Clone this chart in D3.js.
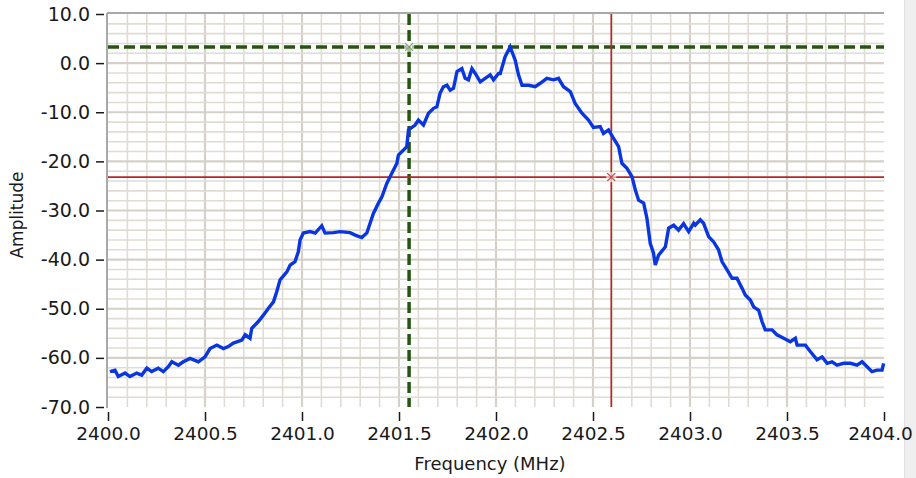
<!DOCTYPE html>
<html>
<head>
<meta charset="utf-8">
<script src="https://cdn.jsdelivr.net/npm/d3@7"></script>
<style>
  html, body { margin: 0; padding: 0; background: #ffffff; }
  svg { display: block; }
  text { font-family: "DejaVu Sans", Verdana, sans-serif; fill: #1a1a1a; }
</style>
</head>
<body>
<svg id="chart" width="916" height="478"></svg>
<script>
// ---- Data ----
const freq = [
  2400.010, 2400.036, 2400.053, 2400.088, 2400.113, 2400.148, 2400.174, 2400.200, 2400.225, 2400.259,
  2400.285, 2400.311, 2400.329, 2400.363, 2400.388, 2400.423, 2400.466, 2400.500, 2400.526, 2400.561,
  2400.595, 2400.620, 2400.646, 2400.690, 2400.707, 2400.732, 2400.741, 2400.775, 2400.801, 2400.827,
  2400.853, 2400.870, 2400.887, 2400.922, 2400.939, 2400.964, 2400.981, 2400.990, 2401.007, 2401.042,
  2401.068, 2401.102, 2401.119, 2401.162, 2401.196, 2401.248, 2401.274, 2401.308, 2401.334, 2401.351,
  2401.368, 2401.394, 2401.412, 2401.437, 2401.463, 2401.489, 2401.497, 2401.523, 2401.540, 2401.549,
  2401.583, 2401.600, 2401.626, 2401.652, 2401.678, 2401.695, 2401.712, 2401.729, 2401.747, 2401.764,
  2401.781, 2401.799, 2401.824, 2401.841, 2401.858, 2401.876, 2401.893, 2401.919, 2401.944, 2401.970,
  2401.987, 2402.013, 2402.022, 2402.047, 2402.073, 2402.099, 2402.116, 2402.134, 2402.168, 2402.202,
  2402.228, 2402.262, 2402.297, 2402.322, 2402.348, 2402.383, 2402.408, 2402.443, 2402.477, 2402.502,
  2402.537, 2402.554, 2402.580, 2402.606, 2402.632, 2402.649, 2402.675, 2402.701, 2402.718, 2402.735,
  2402.761, 2402.778, 2402.795, 2402.812, 2402.821, 2402.838, 2402.873, 2402.890, 2402.916, 2402.941,
  2402.967, 2402.993, 2403.019, 2403.027, 2403.053, 2403.070, 2403.096, 2403.122, 2403.147, 2403.165,
  2403.191, 2403.217, 2403.242, 2403.268, 2403.285, 2403.311, 2403.328, 2403.354, 2403.371, 2403.388,
  2403.423, 2403.448, 2403.483, 2403.517, 2403.543, 2403.552, 2403.595, 2403.620, 2403.655, 2403.681,
  2403.707, 2403.732, 2403.758, 2403.792, 2403.827, 2403.861, 2403.887, 2403.913, 2403.938, 2403.964,
  2403.990, 2403.998
];
const amplitude = [
  -62.8, -62.5, -63.8, -63.1, -63.8, -63.1, -63.5, -62.1, -62.8, -62.1,
  -62.8, -61.8, -60.8, -61.5, -60.8, -60.1, -60.8, -59.8, -58.1, -57.4,
  -58.1, -57.7, -57.0, -56.4, -55.3, -56.0, -54.0, -52.6, -51.3, -49.9,
  -48.6, -46.5, -44.1, -42.5, -41.1, -40.4, -38.4, -36.0, -34.6, -34.3,
  -34.6, -33.1, -34.6, -34.5, -34.3, -34.5, -35.0, -35.5, -34.6, -32.6,
  -30.6, -28.5, -27.2, -24.5, -22.4, -20.4, -18.7, -17.7, -17.0, -13.6,
  -12.6, -11.6, -12.6, -10.2, -9.2, -8.9, -6.1, -4.8, -4.5, -5.5,
  -5.1, -1.7, -1.1, -3.1, -3.4, -1.1, -2.1, -3.8, -3.1, -2.4,
  -3.4, -2.1, -2.1, 1.3, 3.3, 0.6, -2.4, -4.5, -4.5, -4.8,
  -4.1, -3.1, -3.4, -3.1, -4.8, -5.8, -8.2, -10.2, -11.6, -13.1,
  -12.9, -14.3, -13.6, -15.3, -17.0, -20.4, -21.4, -23.1, -25.8, -27.9,
  -28.5, -31.6, -36.7, -38.7, -41.1, -39.1, -37.4, -33.6, -33.0, -34.0,
  -32.7, -34.3, -32.6, -33.0, -31.9, -32.6, -35.3, -36.4, -38.0, -40.4,
  -42.1, -43.8, -43.8, -45.8, -47.2, -48.2, -49.6, -50.3, -52.6, -54.3,
  -54.3, -55.3, -56.0, -56.7, -56.0, -57.4, -57.4, -58.7, -60.4, -59.8,
  -61.1, -60.8, -61.5, -61.1, -61.1, -61.5, -60.8, -61.8, -62.8, -62.5,
  -62.5, -61.1
];
const xTickValues = [2400.0, 2400.5, 2401.0, 2401.5, 2402.0, 2402.5, 2403.0, 2403.5, 2404.0];
const yTickValues = [10, 0, -10, -20, -30, -40, -50, -60, -70];
const cursorFreq = [2401.552, 2402.594];   // green, red
const cursorAmp  = [3.3, -23.2];           // green, red
const xTitle = "Frequency (MHz)";
const yTitle = "Amplitude";

// ---- Layout ----
const svg = d3.select("#chart");
const L = 108, R = 884, T = 14, B = 407;
const x = d3.scaleLinear().domain([2400, 2404]).range([L, R]);
const y = d3.scaleLinear().domain([-70, 10]).range([B, T]);
const fmt1 = d => d.toFixed(1);

// right panel strip (behind the text)
svg.append("rect").attr("x", 905).attr("y", 0).attr("width", 11).attr("height", 478).attr("fill", "#efefef");
svg.append("rect").attr("x", 904).attr("y", 0).attr("width", 1).attr("height", 478).attr("fill", "#e2e2e2");

// grid
const g = svg.append("g");
const vMinor = d3.range(1, 40).map(i => 2400 + i * 0.1);
const hMinor = d3.range(-34, 5).map(i => i * 2);
const isMajorX = d => Math.abs(d * 2 - Math.round(d * 2)) < 1e-6;
g.selectAll(".vg").data(vMinor).join("line")
  .attr("x1", d => x(d)).attr("x2", d => x(d)).attr("y1", T).attr("y2", B)
  .attr("stroke", d => isMajorX(d) ? "#d5d1c9" : "#e0dcd4")
  .attr("stroke-width", d => isMajorX(d) ? 2.2 : 1.6);
g.selectAll(".hg").data(hMinor).join("line")
  .attr("x1", L).attr("x2", R).attr("y1", d => y(d)).attr("y2", d => y(d))
  .attr("stroke", d => d % 10 === 0 ? "#d5d1c9" : "#e0dcd4")
  .attr("stroke-width", d => d % 10 === 0 ? 2.2 : 1.6);

// plot border (top and left)
svg.append("line").attr("x1", L - 1).attr("x2", R).attr("y1", T - 1).attr("y2", T - 1)
  .attr("stroke", "#a9a9a9").attr("stroke-width", 2);
svg.append("line").attr("x1", L - 1).attr("x2", L - 1).attr("y1", T - 1).attr("y2", B + 1)
  .attr("stroke", "#a9a9a9").attr("stroke-width", 2);

// axes
const yAxis = d3.axisLeft(y).tickValues(yTickValues).tickFormat(fmt1)
  .tickSize(8).tickPadding(6);
const ya = svg.append("g").attr("transform", `translate(${L - 4},0)`).call(yAxis);
ya.select(".domain").remove();
ya.selectAll("line").attr("stroke", "#1a1a1a").attr("stroke-width", 1.5);
ya.selectAll("text").attr("font-size", 19).attr("fill", "#1a1a1a")
  .attr("font-family", "DejaVu Sans, Verdana, sans-serif");

const xAxis = d3.axisBottom(x).tickValues(xTickValues).tickFormat(fmt1)
  .tickSize(9).tickPadding(6);
const xa = svg.append("g").attr("transform", `translate(0,${B + 5})`).call(xAxis);
xa.select(".domain").remove();
xa.selectAll("line").attr("stroke", "#1a1a1a").attr("stroke-width", 1.5);
xa.selectAll("text").attr("font-size", 18.5).attr("fill", "#1a1a1a")
  .attr("font-family", "DejaVu Sans, Verdana, sans-serif")
  .attr("dx", (d, i) => i === xTickValues.length - 1 ? -4 : 0);

// titles
svg.append("text").attr("x", 490).attr("y", 470).attr("text-anchor", "middle")
  .attr("font-size", 18).text(xTitle);
svg.append("text").attr("transform", "translate(23,215) rotate(-90)").attr("text-anchor", "middle")
  .attr("font-size", 17).text(yTitle);

// cursors
const green = "#245610", red = "#b8262a";
svg.append("line").attr("x1", L).attr("x2", R).attr("y1", y(cursorAmp[0])).attr("y2", y(cursorAmp[0]))
  .attr("stroke", green).attr("stroke-width", 3.5).attr("stroke-dasharray", "11,5");
svg.append("line").attr("x1", x(cursorFreq[0])).attr("x2", x(cursorFreq[0])).attr("y1", T).attr("y2", B)
  .attr("stroke", green).attr("stroke-width", 3.5).attr("stroke-dasharray", "11,5");
svg.append("line").attr("x1", L).attr("x2", R).attr("y1", y(cursorAmp[1])).attr("y2", y(cursorAmp[1]))
  .attr("stroke", red).attr("stroke-width", 1.6);
svg.append("line").attr("x1", x(cursorFreq[1])).attr("x2", x(cursorFreq[1])).attr("y1", T).attr("y2", B)
  .attr("stroke", red).attr("stroke-width", 1.6);

// data line
const lineGen = d3.line().x((d, i) => x(freq[i])).y(d => y(d)).curve(d3.curveLinear);
svg.append("path").datum(amplitude).attr("d", lineGen)
  .attr("fill", "none").attr("stroke", "#0a36e0").attr("stroke-width", 3.4)
  .attr("stroke-linejoin", "miter");

// cursor markers
function marker(cx, cy, col) {
  const s = 4;
  const m = svg.append("g");
  m.append("rect").attr("x", cx - s - 1).attr("y", cy - s - 1).attr("width", 2 * s + 2).attr("height", 2 * s + 2)
    .attr("fill", "#ffffff").attr("opacity", 0.6);
  m.append("line").attr("x1", cx - s).attr("y1", cy - s).attr("x2", cx + s).attr("y2", cy + s)
    .attr("stroke", col).attr("stroke-width", 1.3);
  m.append("line").attr("x1", cx - s).attr("y1", cy + s).attr("x2", cx + s).attr("y2", cy - s)
    .attr("stroke", col).attr("stroke-width", 1.3);
}
marker(x(cursorFreq[0]), y(cursorAmp[0]), "#8aa07a");
marker(x(cursorFreq[1]), y(cursorAmp[1]), "#c0484a");
</script>
</body>
</html>
